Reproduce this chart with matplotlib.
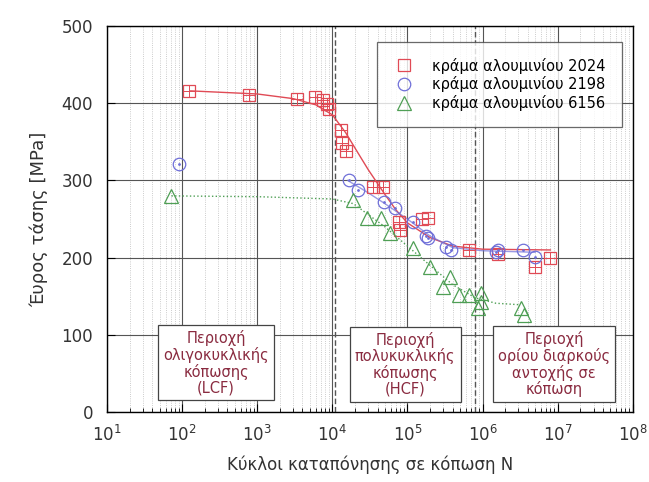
import numpy as np
import matplotlib.pyplot as plt

# κράμα 2024 (τετράγωνα)
n_2024 = [122, 780, 3400, 5900, 7400, 8500, 9000, 12900, 13400, 15000,
          35000, 47000, 76000, 79000, 155000, 190000, 650000, 1.6e6, 5.0e6, 7.9e6]
s_2024 = [416, 411, 405, 408, 404, 399, 393, 365, 348, 338,
          292, 292, 246, 236, 250, 251, 210, 205, 188, 200]
# καμπύλη 2024
fit_n_2024 = [130, 1e3, 3e3, 6e3, 1e4, 1.5e4, 2e4, 3e4, 5e4, 7e4, 1e5, 2e5, 4e5, 1e6, 8e6]
fit_s_2024 = [416, 412, 406, 398, 385, 362, 342, 314, 282, 262, 245, 226, 215, 211, 210]

# κράμα 2198 (κύκλοι)
n_2198 = [90, 16600, 22000, 48000, 69000, 120000, 178000, 190000, 330000, 380000,
          1.5e6, 1.6e6, 3.5e6, 5.0e6]
s_2198 = [321, 300, 288, 272, 264, 246, 228, 225, 214, 210, 207, 210, 210, 201]
fit_n_2198 = [1.6e4, 3e4, 5e4, 1e5, 2e5, 4e5, 1e6, 5e6]
fit_s_2198 = [300, 284, 270, 250, 228, 213, 209, 207]

# κράμα 6156 (τρίγωνα)
n_6156 = [72, 19000, 29000, 45000, 59000, 120000, 200000, 300000, 370000,
          480000, 650000, 940000, 960000, 870000, 3.2e6, 3.6e6]
s_6156 = [280, 275, 251, 251, 232, 212, 188, 162, 175, 152, 152, 154, 143, 135, 135, 126]
fit_n_6156 = [72, 1e3, 1e4, 1.9e4, 5e4, 1e5, 2e5, 4e5, 8e5, 1.5e6, 3.2e6]
fit_s_6156 = [280, 279, 276, 270, 240, 215, 190, 165, 148, 141, 139]

red = '#e04a55'
blue = '#6f6fd8'
green = '#4f9f55'
text_red = '#8a2b40'

fig = plt.figure(figsize=(6.49, 4.82), dpi=100)
ax = fig.add_axes([0.165, 0.145, 0.81, 0.801])

ax.plot(fit_n_2024, fit_s_2024, '-', color=red, lw=1.0, zorder=3)
ax.plot(fit_n_2198, fit_s_2198, '-', color=blue, lw=1.0, alpha=0.7, zorder=3)
ax.plot(fit_n_6156, fit_s_6156, ':', color=green, lw=1.0, zorder=3)

ax.plot(n_2024, s_2024, 's', mfc='none', mec=red, ms=8, mew=0.9, zorder=4,
        label='κράμα αλουμινίου 2024')
ax.plot(n_2024, s_2024, '+', color=red, ms=8, mew=0.7, zorder=4)
ax.plot(n_2198, s_2198, 'o', mfc='none', mec=blue, ms=9, mew=0.9, zorder=4,
        label='κράμα αλουμινίου 2198')
ax.plot(n_2198, s_2198, '.', color=blue, ms=2, zorder=4)
ax.plot(n_6156, s_6156, '^', mfc='none', mec=green, ms=10, mew=0.9, zorder=4,
        label='κράμα αλουμινίου 6156')

# όρια περιοχών
for xb in [1.07e4, 7.9e5]:
    ax.axvline(xb, color='#555555', ls=(0, (4, 2)), lw=1.0, zorder=2)

ax.set_xscale('log')
ax.set_xlim(10, 1e8)
ax.set_ylim(0, 500)
ax.set_yticks([0, 100, 200, 300, 400, 500])
ax.grid(True, which='major', axis='both', color='#555555', lw=0.8)
ax.grid(True, which='minor', axis='x', color='#bbbbbb', lw=0.6, ls=':')
ax.set_axisbelow(True)
ax.tick_params(which='both', direction='in', labelsize=12, labelcolor='#333333')
ax.tick_params(which='major', length=6)
ax.tick_params(which='minor', length=3)
ax.tick_params(axis='y', pad=10)
ax.tick_params(axis='x', pad=9)
for sp in ax.spines.values():
    sp.set_linewidth(1.0)

ax.set_xlabel('Κύκλοι καταπόνησης σε κόπωση N', fontsize=12, color='#333333', labelpad=8)
ax.set_ylabel('Έυρος τάσης [MPa]', fontsize=13, color='#333333', labelpad=10)

leg = ax.legend(loc='upper right', bbox_to_anchor=(0.99, 0.975), fontsize=10.5,
                frameon=True, fancybox=False, edgecolor='#444444', handletextpad=1.1,
                borderpad=1.1, labelspacing=0.2, handlelength=1.6, borderaxespad=0.4)
leg.get_frame().set_linewidth(0.9)

box = dict(boxstyle='square,pad=0.35', fc='white', ec='#444444', lw=0.9)
ax.text(10**2.45, 64, 'Περιοχή\nολιγοκυκλικής\nκόπωσης\n(LCF)', ha='center', va='center',
        fontsize=10.5, color=text_red, bbox=box, linespacing=1.05, zorder=5)
ax.text(10**4.97, 62, 'Περιοχή\nπολυκυκλικής\nκόπωσης\n(HCF)', ha='center', va='center',
        fontsize=10.5, color=text_red, bbox=box, linespacing=1.05, zorder=5)
ax.text(10**6.95, 62, 'Περιοχή\nορίου διαρκούς\nαντοχής σε\nκόπωση', ha='center', va='center',
        fontsize=10.5, color=text_red, bbox=box, linespacing=1.05, zorder=5)

fig.savefig('out.png', dpi=100)
